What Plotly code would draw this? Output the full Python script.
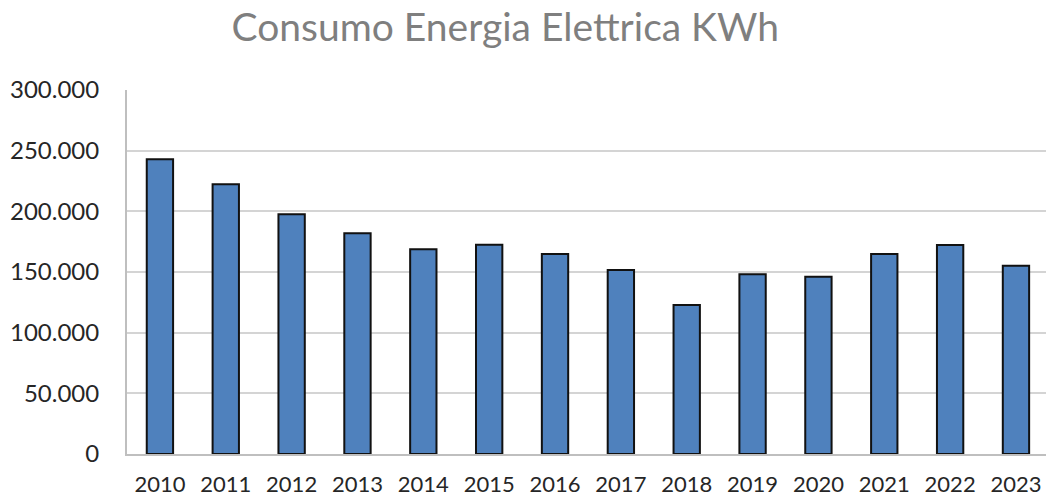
import plotly.graph_objects as go

years = ["2010", "2011", "2012", "2013", "2014", "2015", "2016",
         "2017", "2018", "2019", "2020", "2021", "2022", "2023"]
consumo_kwh = [242900, 222300, 197500, 181900, 168700, 172500, 164800,
               151600, 122800, 148100, 146100, 164800, 172300, 155200]
y_ticks = [0, 50000, 100000, 150000, 200000, 250000, 300000]

fig = go.Figure(go.Bar(
    x=years, y=consumo_kwh,
    marker=dict(color="#4f81bd", line=dict(color="#111111", width=2)),
))

fig.update_layout(
    width=1046, height=499,
    margin=dict(l=127, r=0, t=90, b=45),
    paper_bgcolor="white", plot_bgcolor="white",
    separators=",.",
    bargap=0.6,
    showlegend=False,
    font=dict(family="Lato, Open Sans, sans-serif", color="#404040"),
    title=dict(text="Consumo Energia Elettrica KWh", x=0.483, xanchor="center",
               y=0.945, yanchor="middle",
               font=dict(size=39, color="#7f7f7f", family="Lato, sans-serif")),
)
fig.update_xaxes(
    type="category", range=[-0.5, 13.456], automargin=False,
    showline=True, linecolor="#bfbfbf", linewidth=2,
    showgrid=False, ticks="", ticklabelstandoff=10,
    tickfont=dict(size=22, color="#262626"),
)
fig.update_yaxes(
    range=[0, 300000], tickvals=y_ticks, tickformat=",d", automargin=False,
    showline=True, linecolor="#bfbfbf", linewidth=2,
    showgrid=True, gridcolor="#d4d4d4", gridwidth=2,
    zeroline=False, ticks="", ticklabelstandoff=21,
    tickfont=dict(size=24, color="#262626"),
)

fig.write_html("out.html", config={"displayModeBar": False},
               post_script="document.body.style.margin='0';")
